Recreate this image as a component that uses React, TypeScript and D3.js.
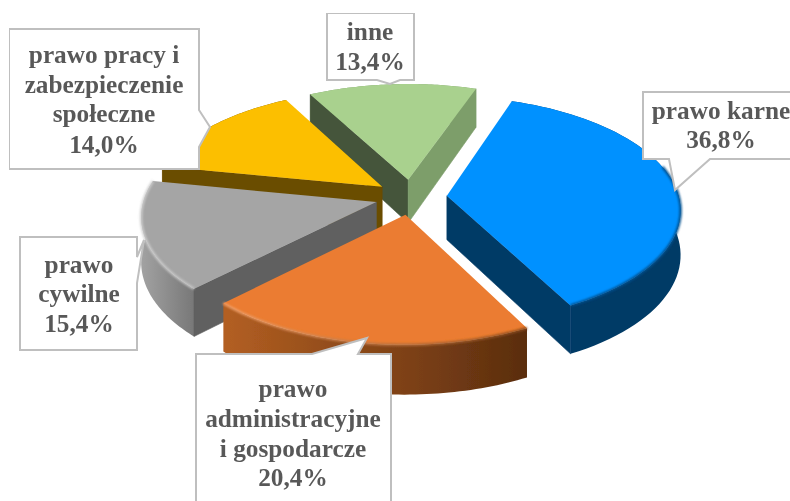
import React from "react";
import * as d3 from "d3";

const categories = [
  "prawo karne",
  "prawo administracyjne i gospodarcze",
  "prawo cywilne",
  "prawo pracy i zabezpieczenie społeczne",
  "inne",
];
const shares = [36.8, 20.4, 15.4, 14.0, 13.4];
const labelLines = [
  ["prawo karne", "36,8%"],
  ["prawo", "administracyjne", "i gospodarcze", "20,4%"],
  ["prawo", "cywilne", "15,4%"],
  ["prawo pracy i", "zabezpieczenie", "społeczne", "14,0%"],
  ["inne", "13,4%"],
];

const topColors = ["#0591ff", "#eb7c30", "#a5a5a5", "#fcbf00", "#a9d18e"];
const startWall = ["#023a66", "#8a4a1c", "#606060", "#6b4d00", "#44543a"];
const endWall = ["#023a66", "#8a4a1c", "#606060", "#6b4d00", "#7d9e6b"];
const rimFrom = ["#023a66", "#b35f22", "#a2a2a2", "#6b4d00", "#7d9e6b"];
const rimTo = ["#023a66", "#5a2d0e", "#787878", "#6b4d00", "#7d9e6b"];
const bevelFrom = ["#03508e", "#f2a06a", "#cdcdcd", "#fcbf00", "#a9d18e"];
const bevelTo = ["#03508e", "#8a4a1c", "#c4c4c4", "#fcbf00", "#a9d18e"];

// callout outlines with their pointers, and where the label lines sit inside
const boxes = [
  { path: "M643,92H796V159H710L675,190L669,159H643Z", cx: 721, ys: [119, 148] },
  { path: "M196,354H312L367,338L358,354H391V506H196Z", cx: 293, ys: [397, 427, 457, 486] },
  { path: "M20,237H137V257L144,240L137,283V350H20Z", cx: 79, ys: [273, 302, 332] },
  { path: "M9,29H199V110L210,127L199,147V169H9Z", cx: 104, ys: [63, 93, 122, 153] },
  { path: "M327,13H414V80H400L390,84L377,80H327Z", cx: 370, ys: [40, 70] },
];

const cx = 411;
const cy = 197;
const R = 232;
const k = 0.487;
const persp = 0.0005;
const explode = 36;
const depth = 44;
const startDeg = 19.5;

type Pt = [number, number];
const project = (x: number, y: number, z = 0): Pt => {
  const p = 1 + persp * y;
  return [cx + x * p, cy + k * y * p + z * p];
};

const pieGen = d3
  .pie<number>()
  .sort(null)
  .startAngle((startDeg * Math.PI) / 180)
  .endAngle((startDeg * Math.PI) / 180 + 2 * Math.PI);

const line = d3.line<Pt>();
const drawOrder = [4, 3, 2, 0, 1];

const App: React.FC = () => {
  const arcs = pieGen(shares);

  const slices = arcs.map((a, i) => {
    const mid = (a.startAngle + a.endAngle) / 2;
    const ex = explode * Math.sin(mid);
    const ey = -explode * Math.cos(mid);
    const at = (ang: number, z = 0) =>
      project(ex + R * Math.sin(ang), ey - R * Math.cos(ang), z);
    const n = 60;
    const angles = d3.range(n + 1).map((j) => a.startAngle + ((a.endAngle - a.startAngle) * j) / n);
    const apexTop = project(ex, ey);
    const apexBottom = project(ex, ey, depth);
    const rimTop = angles.map((t) => at(t));
    const rimBottom = angles.map((t) => at(t, depth));
    const front = angles.filter((t) => Math.cos(t) < 0.3).map((t) => at(t));
    const xs = rimTop.map((d) => d[0]);
    return {
      i,
      top: line([apexTop, ...rimTop]) + "Z",
      // a cut face only shows when it turns towards the viewer
      showStart: Math.sin(a.startAngle) < 0,
      showEnd: Math.sin(a.endAngle) > 0,
      startFace: line([apexTop, rimTop[0], rimBottom[0], apexBottom]) + "Z",
      endFace: line([apexTop, rimTop[n], rimBottom[n], apexBottom]) + "Z",
      rimFace: line([...rimTop, ...rimBottom.slice().reverse()]) + "Z",
      bevelLine: line(front) || "",
      x0: d3.min(xs) as number,
      x1: d3.max(xs) as number,
    };
  });

  return (
    <svg
      width={790}
      height={501}
      style={{ position: "absolute", left: 0, top: 0, background: "#fff" }}
      fontFamily="'Liberation Serif', serif"
    >
      <defs>
        <filter id="soft" x="-20%" y="-20%" width="140%" height="140%">
          <feGaussianBlur stdDeviation="1.2" />
        </filter>
        <filter id="scan" x="0" y="0" width="100%" height="100%">
          <feGaussianBlur stdDeviation="0.35" />
        </filter>
        {slices.map((s) => (
          <React.Fragment key={s.i}>
            <linearGradient
              id={`rim${s.i}`}
              gradientUnits="userSpaceOnUse"
              x1={s.x0}
              x2={s.x1}
              y1={0}
              y2={0}
            >
              <stop offset="0" stopColor={rimFrom[s.i]} />
              <stop offset="1" stopColor={rimTo[s.i]} />
            </linearGradient>
            <linearGradient
              id={`bevel${s.i}`}
              gradientUnits="userSpaceOnUse"
              x1={s.x0}
              x2={s.x1}
              y1={0}
              y2={0}
            >
              <stop offset="0" stopColor={bevelFrom[s.i]} />
              <stop offset="1" stopColor={bevelTo[s.i]} />
            </linearGradient>
          </React.Fragment>
        ))}
      </defs>
      <g filter="url(#scan)">
        {drawOrder.map((i) => {
          const s = slices[i];
          return (
            <g key={categories[i]}>
              <path d={s.rimFace} fill={`url(#rim${i})`} />
              {s.showStart && (
                <path d={s.startFace} fill={startWall[i]} stroke={startWall[i]} strokeWidth={0.6} />
              )}
              {s.showEnd && (
                <path d={s.endFace} fill={endWall[i]} stroke={endWall[i]} strokeWidth={0.6} />
              )}
              <path d={s.top} fill={topColors[i]} />
              <path
                d={s.bevelLine}
                fill="none"
                stroke={`url(#bevel${i})`}
                strokeWidth={2.5}
                filter="url(#soft)"
              />
            </g>
          );
        })}
        {boxes.map((b, i) => (
          <g key={categories[i]}>
            <path d={b.path} fill="#fff" stroke="#bfbfbf" strokeWidth={2} />
            <text textAnchor="middle" fill="#595959" fontSize={25.3} fontWeight="bold">
              {labelLines[i].map((t, j) => (
                <tspan key={t} x={b.cx} y={b.ys[j]}>
                  {t}
                </tspan>
              ))}
            </text>
          </g>
        ))}
      </g>
    </svg>
  );
};

export default App;
